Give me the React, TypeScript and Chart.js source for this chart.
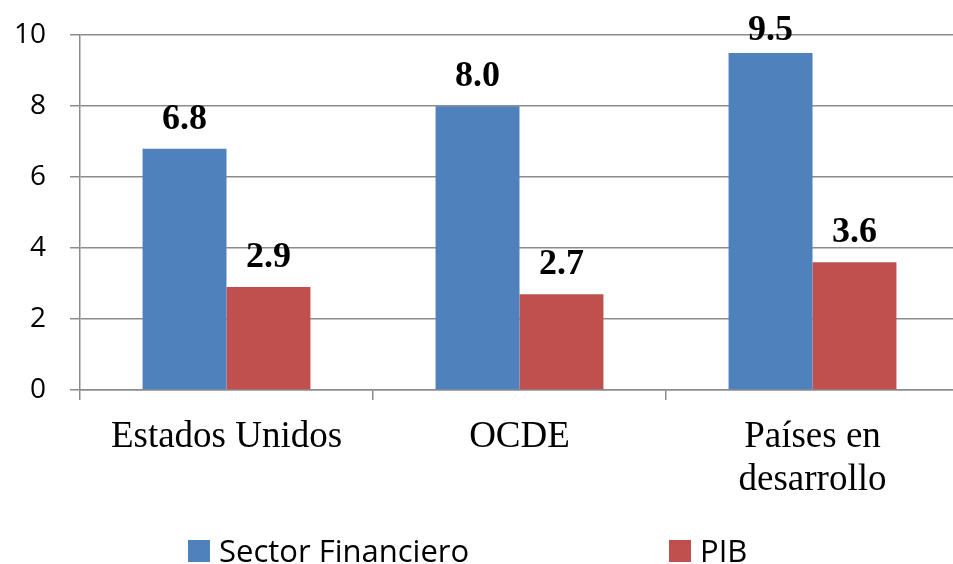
import React, { useEffect, useRef } from "react";
import { Chart, registerables } from "chart.js";

Chart.register(...registerables);

const categories: (string | string[])[] = ["Estados Unidos", "OCDE", ["Países en", "desarrollo"]];
const seriesNames = ["Sector Financiero", "PIB"];
const sectorFinanciero = [6.8, 8.0, 9.5];
const pib = [2.9, 2.7, 3.6];
const seriesColors = ["#4F81BD", "#C0504D"];
const yTicks = { min: 0, max: 10, step: 2 };

const GRID = "#8c8c8c";

const valueLabels = {
  id: "valueLabels",
  afterDatasetsDraw(chart: any) {
    const ctx = chart.ctx;
    ctx.save();
    ctx.font = "bold 36px 'Liberation Serif', 'Times New Roman', serif";
    ctx.fillStyle = "#000";
    ctx.textAlign = "center";
    ctx.textBaseline = "alphabetic";
    chart.data.datasets.forEach((ds: any, di: number) => {
      const meta = chart.getDatasetMeta(di);
      meta.data.forEach((bar: any, i: number) => {
        const v = ds.data[i] as number;
        const y = Math.max(bar.y - 20, chart.chartArea.top + 5);
        ctx.fillText(v.toFixed(1), bar.x, y);
      });
    });
    ctx.restore();
  },
};

const bottomLegend = {
  id: "bottomLegend",
  afterDraw(chart: any, _args: any, opts: any) {
    const ctx = chart.ctx;
    const xs: number[] = opts.xs || [188, 669];
    const top: number = opts.top ?? 540;
    const box: number = opts.box ?? 22;
    ctx.save();
    ctx.font = "31px 'Open Sans', sans-serif";
    ctx.textBaseline = "alphabetic";
    ctx.textAlign = "left";
    chart.data.datasets.forEach((ds: any, i: number) => {
      const x = xs[i];
      ctx.fillStyle = ds.backgroundColor;
      ctx.fillRect(x, top, box, box);
      ctx.fillStyle = "#000";
      ctx.fillText(ds.label, x + box + 9, top + box);
    });
    ctx.restore();
  },
};

export default function App() {
  const ref = useRef<HTMLCanvasElement | null>(null);
  useEffect(() => {
    if (!ref.current) return;
    const chart = new Chart(ref.current, {
      type: "bar",
      data: {
        labels: categories,
        datasets: [
          { label: seriesNames[0], data: sectorFinanciero, backgroundColor: seriesColors[0] },
          { label: seriesNames[1], data: pib, backgroundColor: seriesColors[1] },
        ],
      },
      options: {
        responsive: false,
        animation: false,
        layout: { padding: { top: 0, right: 3, left: 0, bottom: 0 } },
        datasets: { bar: { categoryPercentage: 0.573, barPercentage: 1.0 } } as any,
        plugins: {
          legend: { display: false },
          tooltip: { enabled: false },
          bottomLegend: { xs: [188, 669], top: 540, box: 22 },
        } as any,
        scales: {
          x: {
            offset: true,
            grid: {
              display: true,
              offset: true,
              drawOnChartArea: false,
              drawTicks: true,
              tickLength: 10,
              color: GRID,
              lineWidth: 1.5,
            },
            border: { display: true, color: GRID, width: 1.5 },
            ticks: {
              color: "#000",
              padding: 16,
              maxRotation: 0,
              autoSkip: false,
              font: { family: "'Liberation Serif', 'Times New Roman', serif", size: 37, lineHeight: 1.15 },
            },
            afterFit: (s: any) => {
              s.height = 174;
            },
          },
          y: {
            min: yTicks.min,
            max: yTicks.max,
            grid: { color: GRID, tickLength: 10, lineWidth: 1.5 },
            border: { display: true, color: GRID, width: 1.5 },
            ticks: {
              stepSize: yTicks.step,
              color: "#000",
              padding: 24,
              font: { family: "'Open Sans', sans-serif", size: 28, lineHeight: 0.8 },
            },
            afterFit: (s: any) => {
              s.width = 80;
            },
          },
        },
      },
      plugins: [valueLabels, bottomLegend],
    });
    return () => chart.destroy();
  }, []);
  return (
    <div style={{ position: "fixed", left: 0, top: 0, width: 962, height: 564, background: "#fff" }}>
      <canvas ref={ref} width={962} height={564} style={{ display: "block" }} />
    </div>
  );
}
